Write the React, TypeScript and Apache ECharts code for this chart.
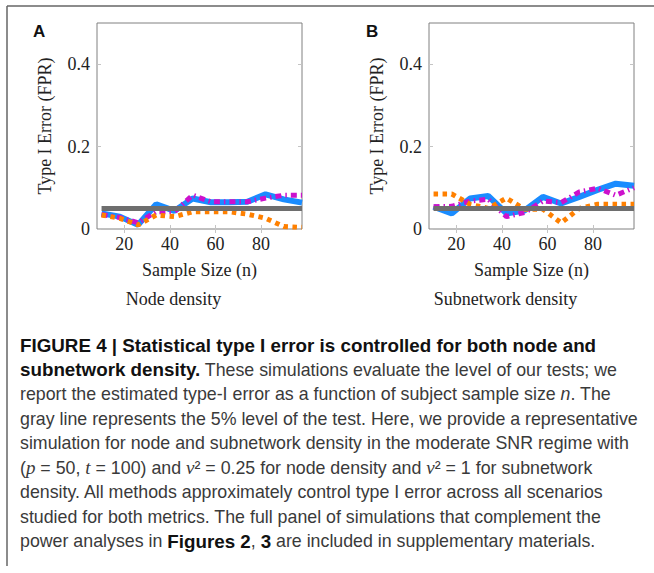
import React, { useEffect, useRef } from "react";
import * as echarts from "echarts";

const sampleSizes = [10, 18, 26, 34, 42, 50, 58, 66, 74, 82, 90, 98];
const nominalLevel = 0.05;

const blueA = [0.038, 0.03, 0.01, 0.06, 0.044, 0.074, 0.065, 0.065, 0.066, 0.084, 0.072, 0.064];
const magentaA = [0.035, 0.028, 0.015, 0.042, 0.042, 0.082, 0.066, 0.066, 0.066, 0.075, 0.082, 0.082];
const orangeA = [0.034, 0.026, 0.01, 0.034, 0.03, 0.042, 0.042, 0.042, 0.036, 0.026, 0.006, 0.004];

const blueB = [0.054, 0.038, 0.074, 0.08, 0.038, 0.045, 0.078, 0.062, 0.078, 0.095, 0.11, 0.105];
const magentaB = [0.054, 0.055, 0.068, 0.072, 0.03, 0.04, 0.068, 0.064, 0.09, 0.099, 0.082, 0.1];
const orangeB = [0.085, 0.085, 0.06, 0.05, 0.075, 0.048, 0.048, 0.015, 0.05, 0.06, 0.06, 0.06];

const xTicks = [20, 40, 60, 80];
const yTicks = [0, 0.2, 0.4];
const panelLetters = ["A", "B"];
const panelSubtitles = ["Node density", "Subnetwork density"];
const xAxisTitle = "Sample Size (n)";
const yAxisTitle = "Type I Error (FPR)";

const captionLines = [
  "{b|FIGURE 4 | Statistical type I error is controlled for both node and}",
  "{b|subnetwork density.} These simulations evaluate the level of our tests; we",
  "report the estimated type-I error as a function of subject sample size {i|n}. The",
  "gray line represents the 5% level of the test. Here, we provide a representative",
  "simulation for node and subnetwork density in the moderate SNR regime with",
  "({m|p} = 50, {m|t} = 100) and {m|ν}² = 0.25 for node density and {m|ν}² = 1 for subnetwork",
  "density. All methods approximately control type I error across all scenarios",
  "studied for both metrics. The full panel of simulations that complement the",
  "power analyses in {b|Figures 2}, {b|3} are included in supplementary materials.",
];

const serif = '"Liberation Serif", "DejaVu Serif", serif';
const sans = '"Liberation Sans", Arial, sans-serif';

const PANEL_LEFT = [97, 429];
const PLOT_TOP = 23;
const PLOT_W = 205;
const PLOT_H = 206;

export default function App() {
  const ref = useRef<HTMLDivElement>(null);
  useEffect(() => {
    if (!ref.current) return;
    const chart = echarts.init(ref.current, undefined, { renderer: "svg" });

    const tick = { show: true, inside: true, length: 4, lineStyle: { color: "#c4c4c4", width: 1 } };
    const grids: any[] = [];
    const xAxes: any[] = [];
    const yAxes: any[] = [];
    const series: any[] = [];
    const graphics: any[] = [];

    const panels = [
      { blue: blueA, magenta: magentaA, orange: orangeA },
      { blue: blueB, magenta: magentaB, orange: orangeB },
    ];

    panels.forEach((p, i) => {
      const left = PANEL_LEFT[i];
      grids.push({
        left,
        top: PLOT_TOP,
        width: PLOT_W,
        height: PLOT_H,
        show: true,
        borderColor: "#808080",
        borderWidth: 1,
        backgroundColor: "#fff",
      });
      const xBase = {
        type: "value",
        gridIndex: i,
        min: 8,
        max: 98,
        axisLine: { show: false },
        splitLine: { show: false },
        axisTick: { ...tick, customValues: xTicks },
      };
      xAxes.push({
        ...xBase,
        position: "bottom",
        axisLabel: { customValues: xTicks, fontFamily: serif, fontSize: 18, color: "#222", margin: 6 },
      });
      xAxes.push({ ...xBase, position: "top", axisLabel: { show: false } });
      const yBase = {
        type: "value",
        gridIndex: i,
        min: 0,
        max: 0.5,
        axisLine: { show: false },
        splitLine: { show: false },
        axisTick: { ...tick, customValues: yTicks },
      };
      yAxes.push({
        ...yBase,
        position: "left",
        axisLabel: {
          customValues: yTicks,
          fontFamily: serif,
          fontSize: 18,
          color: "#222",
          margin: 7,
          formatter: (v: number) => (v === 0 ? "0" : v.toFixed(1)),
        },
      });
      yAxes.push({ ...yBase, position: "right", axisLabel: { show: false } });

      const xi = i * 2;
      const yi = i * 2;
      const mk = (arr: number[]) => sampleSizes.map((n, k) => [n, arr[k]]);
      series.push({
        type: "line",
        xAxisIndex: xi,
        yAxisIndex: yi,
        data: mk(p.blue),
        symbol: "none",
        lineStyle: { color: "#1a8cff", width: 6 },
        z: 2,
      });
      series.push({
        type: "line",
        xAxisIndex: xi,
        yAxisIndex: yi,
        data: mk(p.magenta),
        symbol: "none",
        lineStyle: { color: "#cc11cc", width: 5, type: [6, 4, 1.5, 4] },
        z: 3,
      });
      series.push({
        type: "line",
        xAxisIndex: xi,
        yAxisIndex: yi,
        data: mk(p.orange),
        symbol: "none",
        lineStyle: { color: "#ff8000", width: 5, type: [4.5, 4.5] },
        z: 4,
      });
      series.push({
        type: "line",
        xAxisIndex: xi,
        yAxisIndex: yi,
        data: [
          [sampleSizes[0], nominalLevel],
          [sampleSizes[sampleSizes.length - 1], nominalLevel],
        ],
        symbol: "none",
        lineStyle: { color: "#6e6e6e", width: 5 },
        z: 5,
      });

      const cx = left + PLOT_W / 2;
      graphics.push({
        type: "text",
        x: left - 52,
        y: PLOT_TOP + PLOT_H / 2,
        rotation: Math.PI / 2,
        style: {
          text: yAxisTitle,
          font: `18px ${serif}`,
          fill: "#222",
          align: "center",
          verticalAlign: "middle",
        },
      });
      graphics.push({
        type: "text",
        x: cx,
        y: 270,
        style: { text: xAxisTitle, font: `18px ${serif}`, fill: "#222", align: "center", verticalAlign: "middle" },
      });
      graphics.push({
        type: "text",
        x: cx - 26,
        y: 299,
        style: {
          text: panelSubtitles[i],
          font: `18px ${serif}`,
          fill: "#222",
          align: "center",
          verticalAlign: "middle",
        },
      });
      graphics.push({
        type: "text",
        x: i === 0 ? 33 : 366,
        y: 31,
        style: {
          text: panelLetters[i],
          font: `bold 17px ${sans}`,
          fill: "#111",
          align: "left",
          verticalAlign: "middle",
        },
      });
    });

    graphics.push({
      type: "line",
      shape: { x1: 7, y1: 6, x2: 654, y2: 6 },
      style: { stroke: "#666", lineWidth: 1.5 },
    });
    graphics.push({
      type: "line",
      shape: { x1: 7, y1: 6, x2: 7, y2: 566 },
      style: { stroke: "#666", lineWidth: 1.5 },
    });

    captionLines.forEach((line, k) => {
      graphics.push({
        type: "text",
        x: 20,
        y: 345 + k * 24.5,
        style: {
          text: line,
          font: `17.8px ${sans}`,
          fill: "#3a3a3a",
          align: "left",
          verticalAlign: "middle",
          rich: {
            b: { fontFamily: sans, fontSize: 18.8, fontWeight: "bold", fill: "#111" },
            i: { fontFamily: sans, fontSize: 17.8, fontStyle: "italic", fill: "#3a3a3a" },
            m: { fontFamily: serif, fontSize: 19, fontStyle: "italic", fill: "#3a3a3a" },
          },
        },
      });
    });

    chart.setOption({
      animation: false,
      backgroundColor: "#fff",
      grid: grids,
      xAxis: xAxes,
      yAxis: yAxes,
      series,
      graphic: graphics,
    });
    return () => chart.dispose();
  }, []);

  return (
    <div
      ref={ref}
      style={{ position: "absolute", left: 0, top: 0, width: 654, height: 573, background: "#fff" }}
    />
  );
}
